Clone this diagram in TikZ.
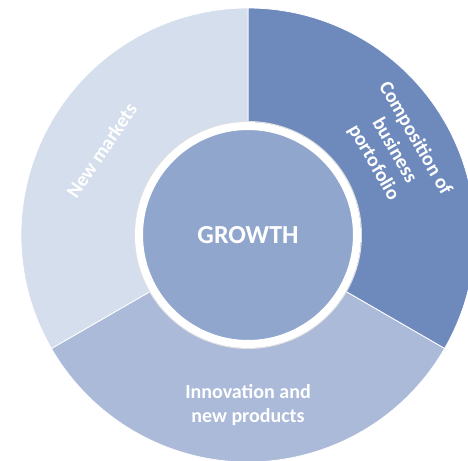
\documentclass[tikz,border=0pt]{standalone}
\usepackage{fontspec}
\setmainfont{Carlito}
\usetikzlibrary{calc}
\definecolor{portcol}{HTML}{6E8ABD}
\definecolor{innocol}{HTML}{ABBAD9}
\definecolor{marketcol}{HTML}{D4DEEC}
\definecolor{growcol}{HTML}{90A6CC}

\begin{document}
\begin{tikzpicture}[x=1pt,y=1pt,
  sector/.style={draw=white, line width=0.8pt},
  segtext/.style={text=white, align=center, font=\bfseries\fontsize{20}{24}\selectfont}]
  \useasboundingbox (-248,-225) rectangle (220,235);
  \coordinate (O) at (0,0);

  \filldraw [sector, fill=portcol] (O) -- (90:227) arc [start angle=90, end angle=-30, radius=227] -- cycle;
  \filldraw [sector, fill=innocol] (O) -- (-30:227) arc [start angle=-30, end angle=-150, radius=227] -- cycle;
  \filldraw [sector, fill=marketcol] (O) -- (210:227) arc [start angle=210, end angle=90, radius=227] -- cycle;

  \draw [black!12, line width=1pt] (O) circle [radius=113.5];
  \filldraw [fill=growcol, draw=white, line width=8pt] (O) circle [radius=109];

  \node [segtext, font=\bfseries\fontsize{26}{30}\selectfont] (growth) at (O) {GROWTH};
  \node [segtext, rotate=-60] (portfolio) at (30:169) {Composition of\\business\\portofolio};
  \node [segtext] (innovation) at (270:170) {Innovation and\\new products};
  \node [segtext, rotate=56] (markets) at (150:169) {New markets};
\end{tikzpicture}
\end{document}
